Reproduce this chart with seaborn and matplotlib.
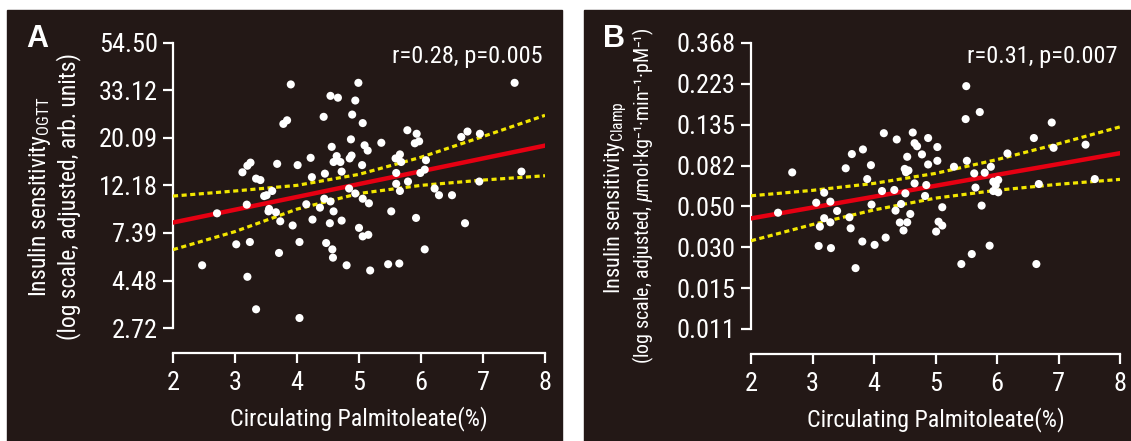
import numpy as np
import matplotlib
matplotlib.use("Agg")
import matplotlib.pyplot as plt
from matplotlib import font_manager
from matplotlib.patches import Rectangle
from matplotlib.ticker import NullLocator
import seaborn as sns

# panel A: OGTT insulin sensitivity vs palmitoleate
a_x = [3.90, 4.99, 7.51, 4.54, 4.66, 4.94, 4.43, 4.89, 3.78, 3.84, 5.06, 5.78, 5.93, 6.75,
       6.65, 6.95, 4.87, 5.36, 5.90, 5.97, 5.09, 5.14, 4.56, 4.64, 4.88, 4.85, 4.22, 4.59,
       4.70, 5.63, 5.66, 5.59, 5.68, 6.08, 3.68, 4.01, 5.05, 3.25, 3.20, 3.12, 4.72, 4.45,
       4.24, 5.60, 5.99, 6.06, 3.34, 3.41, 5.79, 6.94, 7.62, 5.60, 4.84, 5.66, 3.60, 3.51,
       3.47, 4.94, 6.22, 6.29, 6.50, 5.06, 4.44, 4.54, 4.15, 3.19, 5.16, 4.37, 3.55, 3.54,
       3.66, 4.59, 5.52, 2.71, 4.25, 3.73, 4.72, 4.53, 5.92, 6.71, 3.93, 5.00, 5.15, 5.06,
       3.02, 3.24, 4.04, 4.47, 4.57, 3.71, 6.06, 4.58, 2.47, 4.80, 5.47, 5.65, 5.18, 3.20,
       3.34, 4.04]
a_y = [35.3, 35.9, 35.9, 31.3, 30.7, 29.8, 25.1, 25.7, 23.3, 24.2, 23.5, 21.8, 21.0, 21.5,
       20.3, 21.0, 19.8, 19.1, 19.0, 19.4, 18.6, 17.6, 18.3, 16.6, 16.7, 16.2, 16.3, 15.6,
       15.6, 16.2, 16.9, 16.2, 15.6, 15.9, 15.3, 15.1, 15.1, 15.5, 15.0, 14.0, 14.1, 13.8,
       13.3, 13.9, 13.9, 14.4, 13.1, 12.9, 12.7, 12.7, 14.1, 12.4, 11.8, 11.5, 11.5, 11.0,
       10.9, 11.2, 11.8, 11.0, 11.0, 10.6, 10.6, 10.3, 10.0, 9.96, 10.1, 9.65, 9.52, 9.28,
       9.19, 9.28, 9.28, 9.09, 8.51, 8.36, 8.42, 8.19, 8.66, 8.19, 8.00, 7.80, 7.25, 7.13,
       6.56, 6.72, 6.72, 6.65, 6.22, 5.99, 6.22, 5.70, 5.26, 5.26, 5.32, 5.36, 4.98, 4.66,
       3.31, 3.02]

# panel B: clamp insulin sensitivity vs palmitoleate
b_x = [5.50, 5.72, 5.49, 6.89, 4.16, 4.37, 4.63, 4.88, 4.66, 4.70, 5.03, 6.60, 7.44, 6.92,
       3.82, 3.64, 4.78, 4.54, 6.17, 3.95, 4.88, 5.03, 5.51, 5.30, 5.90, 3.54, 4.50, 4.56,
       4.52, 2.67, 5.63, 5.80, 3.89, 4.66, 4.85, 5.94, 6.02, 5.98, 6.68, 7.59, 4.13, 4.33,
       4.51, 5.65, 5.94, 6.02, 3.19, 4.83, 3.06, 3.29, 3.96, 4.44, 5.75, 5.11, 2.44, 3.40,
       4.35, 4.59, 3.60, 3.19, 3.29, 4.42, 4.54, 5.05, 5.11, 3.12, 3.62, 4.48, 5.01, 4.19,
       3.81, 4.01, 3.10, 3.30, 5.88, 5.59, 5.42, 6.64, 3.70]
b_y = [0.217, 0.158, 0.145, 0.139, 0.122, 0.113, 0.123, 0.115, 0.108, 0.104, 0.103, 0.115,
       0.106, 0.102, 0.100, 0.0945, 0.0941, 0.0914, 0.0952, 0.0825, 0.0832, 0.0870, 0.0870,
       0.0809, 0.0809, 0.0794, 0.0788, 0.0773, 0.0757, 0.0755, 0.0746, 0.0752, 0.0696,
       0.0660, 0.0647, 0.0674, 0.0688, 0.0647, 0.0655, 0.0696, 0.0601, 0.0609, 0.0584,
       0.0627, 0.0601, 0.0592, 0.0589, 0.0566, 0.0521, 0.0528, 0.0509, 0.0513, 0.0503,
       0.0493, 0.0461, 0.0471, 0.0473, 0.0454, 0.0436, 0.0431, 0.0410, 0.0409, 0.0410,
       0.0413, 0.0394, 0.0389, 0.0381, 0.0371, 0.0366, 0.0340, 0.0324, 0.0311, 0.0307,
       0.0299, 0.0308, 0.0278, 0.0246, 0.0246, 0.0234]

# regression lines and 95% CI
fit_x = [2, 3, 4, 5, 6, 7, 8]
a_fit = [8.25, 9.44, 10.80, 12.37, 14.15, 16.20, 18.54]
a_hi = [10.9, 11.5, 12.2, 13.7, 16.4, 20.4, 25.5]
a_lo = [6.2, 7.5, 9.5, 11.2, 12.2, 12.9, 13.5]
b_fit = [0.0430, 0.0491, 0.0561, 0.0641, 0.0733, 0.0836, 0.0955]
b_hi = [0.0567, 0.0606, 0.0660, 0.0746, 0.0883, 0.1072, 0.1318]
b_lo = [0.0327, 0.0399, 0.0477, 0.0551, 0.0607, 0.0653, 0.0693]

a_ticklabels = ["54.50", "33.12", "20.09", "12.18", "7.39", "4.48", "2.72"]
b_ticklabels = ["0.368", "0.223", "0.135", "0.082", "0.050", "0.030", "0.015", "0.011"]

BG = "#231816"
RED = "#e60012"
YEL = "#f2e600"
W, H = 1131, 441

# pick a narrow font if one is installed, else shrink a regular one
fonts = font_manager.fontManager.ttflist
names = {f.name for f in fonts}
cond = {"condensed", "semi-condensed", "extra-condensed", "ultra-condensed"}
stretch = "normal"
if "Liberation Sans Narrow" in names:
    family, k = "Liberation Sans Narrow", 1.0
elif "Roboto Condensed" in names:
    family, k = "Roboto Condensed", 1.0
elif any(f.name == "Roboto" and str(f.stretch) in cond for f in fonts):
    family, k, stretch = "Roboto", 1.0, "condensed"
elif any(f.name == "DejaVu Sans" and str(f.stretch) in cond for f in fonts):
    family, k, stretch = "DejaVu Sans", 0.86, "condensed"
else:
    family, k = "Roboto", 0.84

plt.rcParams["font.family"] = [family, "DejaVu Sans"]
plt.rcParams["font.stretch"] = stretch
plt.rcParams["mathtext.fontset"] = "custom"
plt.rcParams["mathtext.rm"] = family
plt.rcParams["mathtext.it"] = family + ":italic"
plt.rcParams["text.color"] = "white"

fig = plt.figure(figsize=(W / 100, H / 100), dpi=100)
fig.patch.set_facecolor("white")
fig.add_artist(Rectangle((7 / W, 0), (562 - 7) / W, (H - 10) / H,
                         transform=fig.transFigure, color=BG, zorder=0))
fig.add_artist(Rectangle((584 / W, 0), (W - 584) / W, (H - 10) / H,
                         transform=fig.transFigure, color=BG, zorder=0))


def panel(rect, xs, ys, fit, hi, lo, ticks, labels, ylim, ylabel, ysize, stat, lab_xy):
    ax = fig.add_axes(rect)
    ax.set_facecolor(BG)
    ax.set_yscale("log")
    for band in (hi, lo):
        sns.lineplot(x=fit_x, y=band, ax=ax, color=YEL, lw=2.3,
                     linestyle=(0, (1.6, 1.1)), zorder=3)
    sns.lineplot(x=fit_x, y=fit, ax=ax, color=RED, lw=3.2, zorder=3)
    sns.scatterplot(x=xs, y=ys, ax=ax, color="white", s=34, edgecolor="none", zorder=4)

    ax.set_xlim(2, 8)
    ax.set_xticks(range(2, 9))
    ax.set_ylim(*ylim)
    ax.set_yticks(ticks)
    ax.set_yticklabels(labels)
    ax.yaxis.set_minor_locator(NullLocator())

    for s in ("top", "right"):
        ax.spines[s].set_visible(False)
    for s in ("left", "bottom"):
        ax.spines[s].set_color("white")
        ax.spines[s].set_linewidth(1.6)
    ax.spines["bottom"].set_position(("outward", 18))
    ax.tick_params(colors="white", length=7, width=1.6, labelsize=19 * k)
    ax.tick_params(axis="x", pad=6)
    ax.tick_params(axis="y", pad=4)

    ax.set_xlabel("Circulating Palmitoleate(%)", fontsize=17.3 * k, color="white")
    ax.xaxis.label.set_verticalalignment("center")
    ax.xaxis.set_label_coords(0.5, lab_xy[2])
    ax.set_ylabel(ylabel, fontsize=ysize * k, color="white", linespacing=1.2)
    ax.yaxis.label.set_verticalalignment("center")
    ax.yaxis.set_label_coords(lab_xy[0], lab_xy[1])

    ax.text(0.993, 0.954, stat, transform=ax.transAxes, ha="right", va="center",
            fontsize=17.6 * k, color="white")
    return ax


panel([173 / W, 1 - 328 / H, 372 / W, 285 / H], a_x, a_y, a_fit, a_hi, a_lo,
      np.exp(np.arange(4, 0.9, -0.5)), a_ticklabels, (np.exp(1), np.exp(4)),
      "Insulin sensitivity$_{\\mathrm{OGTT}}$\n(log scale, adjusted, arb. units)", 17,
      "r=0.28, p=0.005", (-0.321, 0.46, -0.319))

ax_b = panel([751 / W, 1 - 329 / H, 369 / W, 286 / H], b_x, b_y, b_fit, b_hi, b_lo,
             np.exp(-np.arange(1, 4.9, 0.5)), b_ticklabels, (np.exp(-4.5), np.exp(-1)),
             "Insulin sensitivity$_{\\mathrm{Clamp}}$", 16,
             "r=0.31, p=0.007", (-0.366, 0.46, -0.315))
# second line of the B y-label is set smaller so it fits the panel height
ax_b.text(-0.293, 0.465, "(log scale, adjusted, $\\mathit{\\mu}$mol·kg⁻¹·min⁻¹·pM⁻¹)",
          transform=ax_b.transAxes, rotation=90, ha="center", va="center",
          fontsize=14.4 * k, color="white")

fig.text(37 / W, 1 - 39 / H, "A", fontsize=22, fontweight="bold", color="white",
         ha="center", va="center", family=["Liberation Sans", "DejaVu Sans"])
fig.text(614 / W, 1 - 39 / H, "B", fontsize=22, fontweight="bold", color="white",
         ha="center", va="center", family=["Liberation Sans", "DejaVu Sans"])

fig.savefig("out.png", dpi=100, facecolor=fig.get_facecolor())
